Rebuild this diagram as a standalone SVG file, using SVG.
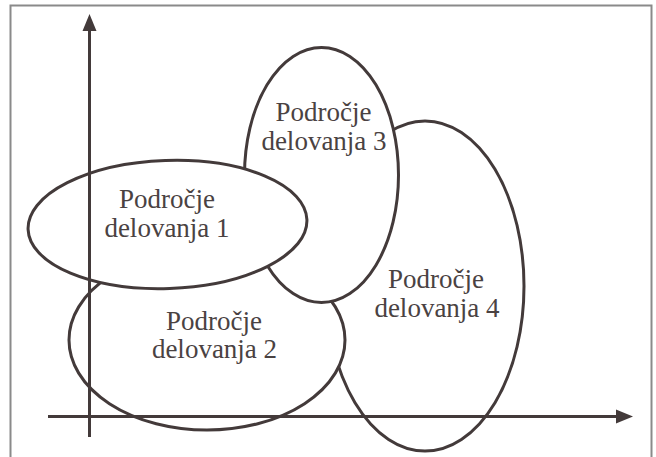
<svg xmlns="http://www.w3.org/2000/svg" width="656" height="457" viewBox="0 0 656 457">
<style>
.area{fill:#ffffff;stroke:#433a3a;stroke-width:3}
.lbl{font-family:'Liberation Serif','Times New Roman',serif;font-size:27px;fill:#4a4242;text-anchor:middle}
.axis{stroke:#433a3a;stroke-width:3;fill:none}
.head{fill:#433a3a}
</style>
<rect x="10.5" y="5.5" width="641" height="470" fill="#ffffff" stroke="#8a8a8a" stroke-width="2"/>
<g id="area4">
<ellipse class="area" cx="425" cy="286" rx="99" ry="165"/>
<text class="lbl" x="436" y="288">Področje</text>
<text class="lbl" x="437" y="317">delovanja 4</text>
</g>
<g id="area2">
<ellipse class="area" cx="207" cy="340" rx="138" ry="90"/>
<text class="lbl" x="214" y="330">Področje</text>
<text class="lbl" x="214.5" y="358">delovanja 2</text>
</g>
<g id="area3">
<ellipse class="area" cx="321.5" cy="175" rx="77" ry="127.5"/>
<text class="lbl" x="323.5" y="121">Področje</text>
<text class="lbl" x="324" y="150">delovanja 3</text>
</g>
<g id="area1">
<ellipse class="area" cx="167.5" cy="224.5" rx="139.5" ry="64" transform="rotate(-2 167.5 224.5)"/>
<text class="lbl" x="167" y="208">Področje</text>
<text class="lbl" x="167" y="237">delovanja 1</text>
</g>
<g id="connectors">
<line class="axis" x1="89.5" y1="437" x2="89.5" y2="28"/>
<polygon class="head" points="89.5,14 96.5,31 82.5,31"/>
<line class="axis" x1="48" y1="416.5" x2="620" y2="416.5"/>
<polygon class="head" points="633,416.5 616,409.5 616,423.5"/>
</g>
</svg>
